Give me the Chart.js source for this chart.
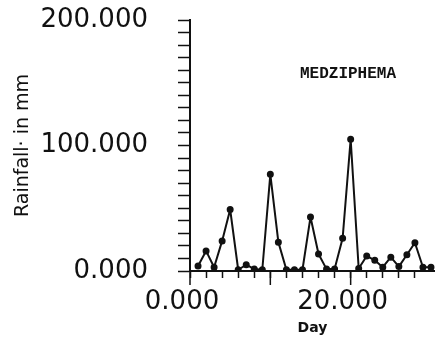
<!DOCTYPE html>
<html>
<head>
<meta charset="utf-8">
<script src="https://cdn.jsdelivr.net/npm/chart.js@4/dist/chart.umd.min.js"></script>
<style>
  html, body { margin: 0; padding: 0; background: #fff; }
  #wrap { width: 435px; height: 343px; }
</style>
</head>
<body>
<div id="wrap"><canvas id="rain"></canvas></div>
<script>
// daily rainfall, Medziphema
const days = [1, 2, 3, 4, 5, 6, 7, 8, 9, 10, 11, 12, 13, 14, 15,
              16, 17, 18, 19, 20, 21, 22, 23, 24, 25, 26, 27, 28, 29, 30];
const rainfall = [4, 16, 3, 24, 49, 1, 5, 1.5, 1, 77, 23, 1, 1, 1, 43,
                  13.5, 1.5, 1.5, 26, 105, 2, 12, 8.5, 3, 11, 3.5, 13, 22.5, 3, 3];
const xLabelTicks = [0, 20];
const yLabelTicks = [0, 100, 200];
const majorXTicks = [0, 10, 20];
const stationName = 'MEDZIPHEMA';

const ink = '#111';
const numFont = { family: 'DejaVu Sans', size: 26 };

// longer tick marks on every tenth day
const majorTicks = {
  id: 'majorTicks',
  afterDraw(chart) {
    const { ctx, scales } = chart;
    const y0 = scales.y.getPixelForValue(0);
    ctx.save();
    ctx.strokeStyle = ink;
    ctx.lineWidth = 1.5;
    majorXTicks.forEach(v => {
      const px = scales.x.getPixelForValue(v);
      ctx.beginPath();
      ctx.moveTo(px, y0);
      ctx.lineTo(px, y0 + 14);
      ctx.stroke();
    });
    ctx.restore();
  }
};

const stationLabel = {
  id: 'stationLabel',
  afterDraw(chart) {
    const ctx = chart.ctx;
    ctx.save();
    ctx.fillStyle = ink;
    ctx.font = 'bold 16px "Liberation Mono"';
    ctx.textBaseline = 'middle';
    ctx.fillText(stationName, 300, 74);
    ctx.restore();
  }
};

new Chart(document.getElementById('rain'), {
  type: 'line',
  data: {
    datasets: [{
      label: stationName,
      data: days.map((d, i) => ({ x: d, y: rainfall[i] })),
      borderColor: ink,
      borderWidth: 2,
      borderJoinStyle: 'round',
      pointBackgroundColor: ink,
      pointBorderColor: ink,
      pointRadius: 2.5,
      pointStyle: 'circle',
      tension: 0
    }]
  },
  options: {
    responsive: true,
    maintainAspectRatio: false,
    animation: false,
    layout: { autoPadding: false, padding: { top: 20, right: 0, left: 0, bottom: 0 } },
    plugins: { legend: { display: false }, tooltip: { enabled: false } },
    scales: {
      x: {
        type: 'linear',
        min: 0,
        max: 30.5,
        afterFit(scale) {
          scale.height = 72;
          scale.paddingLeft = 0;
          scale.paddingRight = 0;
        },
        afterBuildTicks(scale) {
          scale.ticks = scale.ticks.filter(t => t.value % 2 === 0);
        },
        border: { display: true, color: ink, width: 2 },
        grid: { drawOnChartArea: false, drawTicks: true, tickLength: 7, tickColor: ink, tickWidth: 1.5 },
        ticks: {
          stepSize: 2,
          autoSkip: false,
          maxRotation: 0,
          padding: 9,
          labelOffset: -8,
          color: ink,
          font: numFont,
          callback: v => xLabelTicks.includes(v) ? v.toFixed(3) : ''
        },
        title: {
          display: true,
          text: 'Day',
          color: ink,
          font: { family: 'DejaVu Sans', size: 14, weight: 'bold' },
          padding: { top: 0, bottom: 6 }
        }
      },
      y: {
        min: 0,
        max: 200,
        afterFit(scale) {
          scale.width = 190;
          scale.paddingTop = 0;
          scale.paddingBottom = 0;
        },
        border: { display: true, color: ink, width: 2 },
        grid: { drawOnChartArea: false, drawTicks: true, tickLength: 12, tickColor: ink, tickWidth: 1.5 },
        ticks: {
          stepSize: 10,
          autoSkip: false,
          padding: 30,
          color: ink,
          font: numFont,
          callback: v => yLabelTicks.includes(v) ? v.toFixed(3) : ''
        },
        title: {
          display: true,
          text: 'Rainfall· in mm',
          color: ink,
          font: { family: 'DejaVu Sans', size: 19 },
          padding: { top: 12, bottom: 0 }
        }
      }
    }
  },
  plugins: [majorTicks, stationLabel]
});
</script>
</body>
</html>
